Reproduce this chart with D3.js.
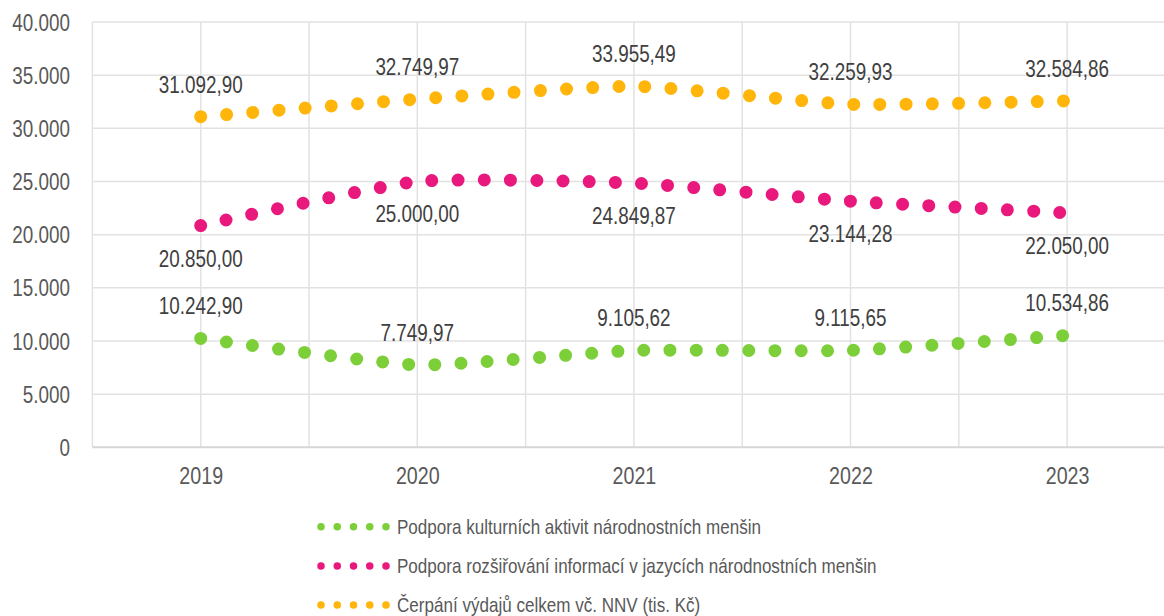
<!DOCTYPE html>
<html>
<head>
<meta charset="utf-8">
<script src="https://cdn.jsdelivr.net/npm/d3@7"></script>
<style>
  html, body { margin: 0; padding: 0; background: #fff; }
  svg { display: block; }
  .narrow { font-family: "Liberation Sans", Arial, sans-serif; }
</style>
</head>
<body>
<svg id="chart" width="1164" height="616"></svg>
<script>
// Years on the category axis
const years = ["2019", "2020", "2021", "2022", "2023"];

// Series values (tis. Kč)
const kultura   = [10242.90, 7749.97, 9105.62, 9115.65, 10534.86];
const informace = [20850.00, 25000.00, 24849.87, 23144.28, 22050.00];
const celkem    = [31092.90, 32749.97, 33955.49, 32259.93, 32584.86];

// Series names for the legend
const seriesNames = [
  "Podpora kulturních aktivit národnostních menšin",
  "Podpora rozšiřování informací v jazycích národnostních menšin",
  "Čerpání výdajů celkem vč. NNV (tis. Kč)"
];

// Value axis ticks
const yTicks = [0, 5000, 10000, 15000, 20000, 25000, 30000, 35000, 40000];

const series = [
  { name: seriesNames[0], values: kultura,   color: "#7DCF3A", label: "above" },
  { name: seriesNames[1], values: informace, color: "#E8187C", label: "below" },
  { name: seriesNames[2], values: celkem,    color: "#FFB50A", label: "above" }
];

// Narrow lettering: regular sans compressed horizontally
const NARROW = 0.82;

const svg = d3.select("#chart");

// Category band: each year sits in the middle of its band, plot runs past the right edge
const x = d3.scalePoint().domain(years).range([200.7, 1067.1]);
const step = x.step();
const plotLeft = x(years[0]) - step / 2;
const plotRight = x(years[years.length - 1]) + step / 2;

const y = d3.scaleLinear().domain([0, 40000]).range([447.3, 22]);

// Czech number formatting: "." thousands, "," decimals
const cs = d3.formatLocale({ decimal: ",", thousands: ".", grouping: [3], currency: ["", " Kč"] });
const fmtTick = cs.format(",.0f");
const fmtVal = cs.format(",.2f");

// Horizontal gridlines
svg.append("g")
  .selectAll("line")
  .data(yTicks.filter(d => d > 0))
  .join("line")
  .attr("x1", plotLeft).attr("x2", plotRight)
  .attr("y1", d => y(d)).attr("y2", d => y(d))
  .attr("stroke", "#e2e2e2").attr("stroke-width", 1.5);

// Vertical gridlines at band centres and band edges
const vLines = [];
years.forEach((yr, i) => {
  if (i === 0) vLines.push(x(yr) - step / 2);
  vLines.push(x(yr));
  vLines.push(x(yr) + step / 2);
});
svg.append("g")
  .selectAll("line")
  .data(vLines)
  .join("line")
  .attr("x1", d => d).attr("x2", d => d)
  .attr("y1", y(40000)).attr("y2", y(0))
  .attr("stroke", "#e2e2e2").attr("stroke-width", 1.5);

// Baseline
svg.append("line")
  .attr("x1", plotLeft).attr("x2", plotRight)
  .attr("y1", y(0)).attr("y2", y(0))
  .attr("stroke", "#d6d6d6").attr("stroke-width", 2);

// Value axis labels
const yAxis = d3.axisLeft(y).tickValues(yTicks).tickFormat(fmtTick).tickSize(0).tickPadding(0);
const yg = svg.append("g").attr("transform", "translate(70,0)").call(yAxis);
yg.select(".domain").remove();
yg.selectAll("text")
  .attr("class", "narrow")
  .attr("x", 0)
  .attr("font-size", 23)
  .attr("fill", "#595959")
  .attr("dy", "0.35em")
  .attr("transform", `scale(${NARROW},1)`);

// Category axis labels
const xAxis = d3.axisBottom(x).tickSize(0).tickPadding(0);
const xg = svg.append("g").attr("transform", "translate(0,484)").call(xAxis);
xg.select(".domain").remove();
xg.selectAll("text")
  .attr("class", "narrow")
  .attr("y", 0)
  .attr("font-size", 24)
  .attr("fill", "#595959")
  .attr("dy", 0)
  .attr("transform", `scale(${NARROW},1)`);

// Smoothed dotted lines
const line = d3.line()
  .x((d, i) => x(years[i]))
  .y(d => y(d))
  .curve(d3.curveCardinal.tension(0.5));

svg.append("g")
  .selectAll("path")
  .data(series)
  .join("path")
  .attr("d", d => line(d.values))
  .attr("fill", "none")
  .attr("stroke", d => d.color)
  .attr("stroke-width", 13)
  .attr("stroke-linecap", "round")
  .attr("stroke-dasharray", "0 26.2");

// Data labels
series.forEach(s => {
  svg.append("g")
    .selectAll("text")
    .data(s.values)
    .join("text")
    .attr("class", "narrow")
    .attr("transform", (d, i) => {
      const ty = s.label === "above" ? y(d) - 24 : y(d) + 41;
      return `translate(${x(years[i])},${ty}) scale(${NARROW},1)`;
    })
    .attr("text-anchor", "middle")
    .attr("font-size", 23)
    .attr("fill", "#404040")
    .text(d => fmtVal(d));
});

// Legend: five-dot sample of each line style, then the series name
const legend = svg.append("g");
series.forEach((s, i) => {
  const cy = 526.7 + i * 39.2;
  legend.append("path")
    .attr("d", d3.line()([[321, cy], [386.5, cy]]))
    .attr("stroke", s.color)
    .attr("stroke-width", 7.5)
    .attr("stroke-linecap", "round")
    .attr("stroke-dasharray", "0 16.25");
  legend.append("text")
    .attr("class", "narrow")
    .attr("transform", `translate(397,${cy}) scale(${NARROW},1)`)
    .attr("dy", "0.35em")
    .attr("font-size", 20.8)
    .attr("fill", "#595959")
    .text(s.name);
});
</script>
</body>
</html>
